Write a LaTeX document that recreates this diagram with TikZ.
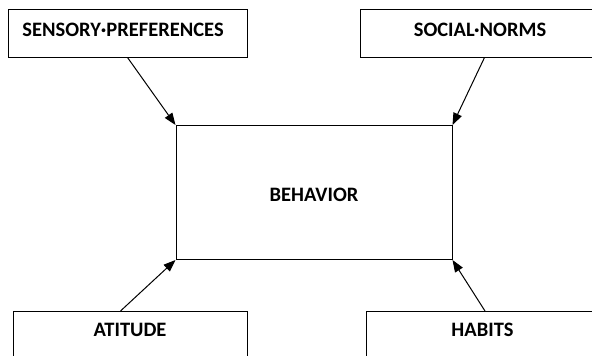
\documentclass[tikz,border=0pt]{standalone}
\usepackage{fontspec}
\setmainfont{Carlito}
\usetikzlibrary{arrows.meta}
\begin{document}
\begin{tikzpicture}[x=1pt,y=-1pt,
  box/.style={draw=black,line width=1pt,fill=white,inner sep=0pt,anchor=north west},
  lbl/.style={font=\bfseries\fontsize{20.5}{24}\selectfont,inner sep=0pt},
  link/.style={draw=black,line width=1pt,-{Triangle[length=12pt,width=9pt]}}]
  \useasboundingbox (0,0) rectangle (592,356);
  \clip (0,0) rectangle (592,356);
  % factor boxes
  \node[box,minimum width=239pt,minimum height=47.5pt] (sp) at (8,9) {};
  \node[box,minimum width=240pt,minimum height=47.5pt] (sn) at (360,9) {};
  \node[box,minimum width=234pt,minimum height=47.5pt] (at) at (13,311) {};
  \node[box,minimum width=234pt,minimum height=47.5pt] (hb) at (366,311) {};
  % central box
  \node[box,minimum width=276pt,minimum height=134pt] (beh) at (175.5,125) {};
  % labels
  \node[lbl] (spt) at (123,30) {SENSORY·PREFERENCES};
  \node[lbl] (snt) at (480,30) {SOCIAL·NORMS};
  \node[lbl] (att) at (130,330) {ATITUDE};
  \node[lbl] (hbt) at (482.5,330) {HABITS};
  \node[lbl] (beht) at (314,195) {BEHAVIOR};
  % influences
  \draw[link] ([xshift=-0.5pt]sp.south) -- (beh.north west);
  \draw[link] ([xshift=4pt]sn.south) -- (beh.north east);
  \draw[link] ([xshift=-10pt]at.north) -- (beh.south west);
  \draw[link] ([xshift=1.5pt]hb.north) -- (beh.south east);
\end{tikzpicture}
\end{document}
